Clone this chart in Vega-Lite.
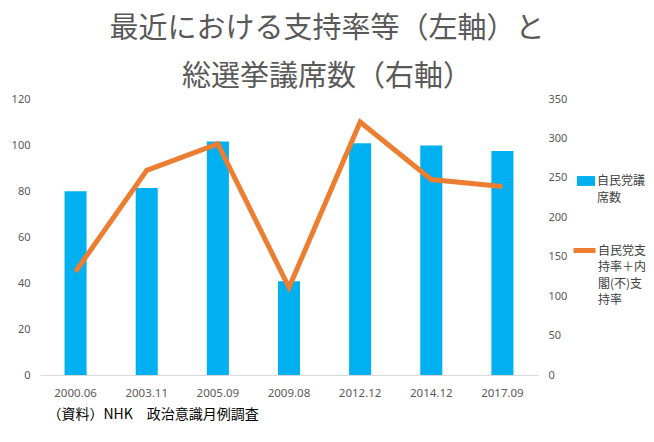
{
  "$schema": "https://vega.github.io/schema/vega-lite/v6.json",
  "autosize": {"type": "none"},
  "padding": {"left": 40, "top": 99, "right": 116, "bottom": 67},
  "width": 498,
  "height": 276,
  "background": "white",
  "title": {
    "text": ["最近における支持率等（左軸）と", "総選挙議席数（右軸）"],
    "font": "Noto Sans CJK JP",
    "fontSize": 29,
    "fontWeight": "normal",
    "color": "#595959",
    "lineHeight": 48,
    "anchor": "middle",
    "dx": 38,
    "offset": 1
  },
  "config": {
    "view": {"stroke": null},
    "axis": {
      "labelFont": "Noto Sans",
      "labelFontSize": 11,
      "labelColor": "#595959",
      "grid": false,
      "ticks": false
    },
    "legend": {
      "labelFont": "Noto Sans CJK JP",
      "labelFontSize": 12,
      "labelColor": "#404040",
      "title": null
    }
  },
  "data": {
    "values": [
      {"date": "2000.06", "seats": 233, "rate": 45, "s1": "自民党議席数", "s2": "自民党支持率＋内閣(不)支持率"},
      {"date": "2003.11", "seats": 237, "rate": 89, "s1": "自民党議席数", "s2": "自民党支持率＋内閣(不)支持率"},
      {"date": "2005.09", "seats": 296, "rate": 100.5, "s1": "自民党議席数", "s2": "自民党支持率＋内閣(不)支持率"},
      {"date": "2009.08", "seats": 119, "rate": 38, "s1": "自民党議席数", "s2": "自民党支持率＋内閣(不)支持率"},
      {"date": "2012.12", "seats": 294, "rate": 110, "s1": "自民党議席数", "s2": "自民党支持率＋内閣(不)支持率"},
      {"date": "2014.12", "seats": 291, "rate": 85, "s1": "自民党議席数", "s2": "自民党支持率＋内閣(不)支持率"},
      {"date": "2017.09", "seats": 284, "rate": 82, "s1": "自民党議席数", "s2": "自民党支持率＋内閣(不)支持率"}
    ]
  },
  "encoding": {
    "x": {
      "field": "date",
      "type": "ordinal",
      "scale": {"paddingInner": 0.69, "paddingOuter": 0.345},
      "axis": {
        "labelAngle": 0,
        "labelFontSize": 11.5,
        "labelPadding": 12,
        "domain": true,
        "domainColor": "#D9D9D9",
        "title": "（資料）NHK　政治意識月例調査",
        "titleFont": "Noto Sans CJK JP",
        "titleFontSize": 14,
        "titleFontWeight": "normal",
        "titleColor": "#000000",
        "titleAnchor": "start",
        "titleAlign": "left",
        "titleBaseline": "middle",
        "titleX": 7,
        "titleY": 39
      }
    }
  },
  "layer": [
    {
      "mark": {"type": "bar", "color": "#00B0F0"},
      "encoding": {
        "y": {
          "field": "seats",
          "type": "quantitative",
          "scale": {"domain": [0, 350]},
          "axis": {
            "orient": "right",
            "title": null,
            "domain": false,
            "values": [0, 50, 100, 150, 200, 250, 300, 350],
            "labelPadding": 10
          }
        },
        "color": {
          "field": "s1",
          "type": "nominal",
          "scale": {"range": ["#00B0F0"]},
          "legend": {
            "orient": "none",
            "legendX": 537,
            "legendY": 73,
            "symbolType": "M-1,-0.55H1V0.55H-1Z",
            "symbolSize": 324,
            "symbolStrokeWidth": 0,
            "labelLimit": 100,
            "labelOffset": 2,
            "labelExpr": "['自民党議', '席数']",
            "encode": {"labels": {"update": {"lineHeight": {"value": 16.5}}}}
          }
        }
      }
    },
    {
      "mark": {"type": "line", "color": "#ED7D31", "strokeWidth": 5},
      "encoding": {
        "y": {
          "field": "rate",
          "type": "quantitative",
          "scale": {"domain": [0, 120]},
          "axis": {
            "orient": "left",
            "title": null,
            "domain": false,
            "values": [0, 20, 40, 60, 80, 100, 120],
            "labelPadding": 10
          }
        },
        "stroke": {
          "field": "s2",
          "type": "nominal",
          "scale": {"range": ["#ED7D31"]},
          "legend": {
            "orient": "none",
            "legendX": 531,
            "legendY": 138,
            "symbolType": "stroke",
            "symbolSize": 484,
            "symbolStrokeWidth": 5,
            "labelLimit": 100,
            "labelOffset": 0,
            "labelExpr": "['自民党支', '持率＋内', '閣(不)支', '持率']",
            "encode": {"labels": {"update": {"lineHeight": {"value": 16.5}}}}
          }
        }
      }
    }
  ],
  "resolve": {"scale": {"y": "independent"}}
}
